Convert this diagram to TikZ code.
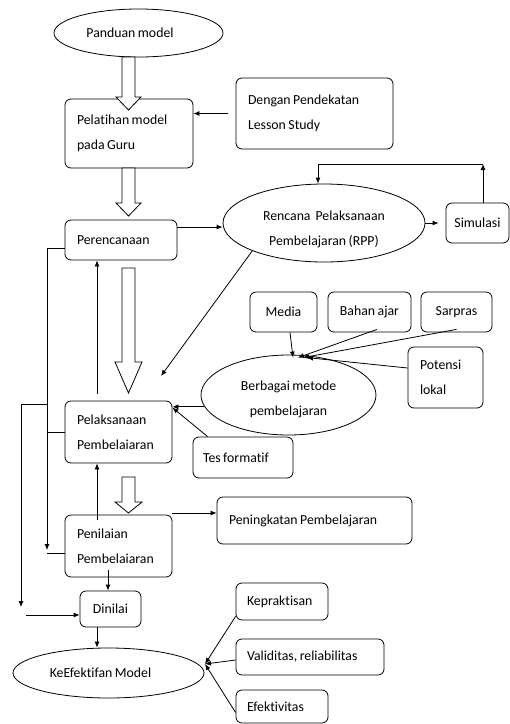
\documentclass[tikz,border=0pt]{standalone}
\usepackage{fontspec}
\setmainfont{Carlito}[Ligatures={NoCommon},WordSpace=0.8]
\usetikzlibrary{shapes.geometric,arrows.meta}
\begin{document}
\begin{tikzpicture}[x=1pt,y=-1pt,
  every node/.style={font=\fontsize{13.8}{25}\selectfont},
  box/.style={draw, line width=0.8pt, rounded corners=6pt, fill=white, inner ysep=0pt, inner xsep=12pt, align=flush left},
  cbox/.style={draw, line width=0.8pt, rounded corners=6pt, fill=white, inner sep=0pt, align=center},
  ell/.style={draw, line width=0.8pt, ellipse, inner sep=0pt, fill=white},
  arr/.style={line width=0.8pt, -{Latex[length=6pt,width=5pt]}},
  ln/.style={line width=0.8pt},
  blk/.style={draw, line width=0.8pt, fill=white, line join=miter}]
\useasboundingbox (0,0) rectangle (510,724);

% nodes
\node[ell, minimum width=169, minimum height=48, label={[xshift=-8.5pt]center:Panduan model}] (panduan) at (138.5,33) {};
\node[box, text width=104, minimum height=69] (pelatihan) at (129,133.5) {Pelatihan model\\pada Guru};
\node[box, text width=133, minimum height=71] (dengan) at (314.5,113.5) {Dengan Pendekatan\\Lesson Study};
\node[box, text width=88, minimum height=40] (perenc) at (121,240) {Perencanaan};
\node[ell, minimum width=202, minimum height=78, label={[align=center,yshift=-6.5pt]center:Rencana\ \ Pelaksanaan\\Pembelajaran (RPP)}] (rpp) at (324,223) {};
\node[cbox, minimum width=63, minimum height=40] (simulasi) at (477.5,223) {Simulasi};
\node[cbox, minimum width=67, minimum height=40] (media) at (283.5,312) {Media};
\node[cbox, minimum width=83, minimum height=40] (bahan) at (369.5,312) {Bahan ajar};
\node[cbox, minimum width=71, minimum height=40] (sarpras) at (456.5,312) {Sarpras};
\node[box, text width=51, minimum height=61] (potensi) at (445.5,377.5) {Potensi\\lokal};
\node[ell, minimum width=175, minimum height=80, label={[align=center,yshift=-4.5pt]center:Berbagai metode\\pembelajaran}] (berbagai) at (288.5,395) {};
\node[box, text width=83, minimum height=62] (pelaks) at (118.5,432) {Pelaksanaan\\Pembelaiaran};
\node[box, inner xsep=10pt, text width=80, minimum height=41] (tes) at (243,457.5) {Tes formatif};
\node[box, text width=83, minimum height=62] (penilaian) at (118.5,546) {Penilaian\\Pembelaiaran};
\node[box, text width=171, minimum height=47] (peningkatan) at (314.5,520.5) {Peningkatan Pembelajaran};
\node[cbox, minimum width=61, minimum height=36] (dinilai) at (110.5,609) {Dinilai};
\node[ell, minimum width=191, minimum height=50, label={[xshift=-8pt]center:KeEfektifan Model}] (keef) at (108.5,673) {};
\node[box, inner xsep=11pt, text width=70, minimum height=37] (keprak) at (282,601.5) {Kepraktisan};
\node[box, inner xsep=11pt, text width=126, minimum height=36] (valid) at (310,657) {Validitas, reliabilitas};
\node[box, inner xsep=11pt, text width=70, minimum height=33] (efekt) at (282,706.5) {Efektivitas};

% connectors
\draw[arr] ([xshift=-8pt]dengan.west) -- (dengan.west -| pelatihan.east);
\coordinate (p1) at ([yshift=13pt]perenc.east);
\draw[arr] (p1) -- (p1 -| rpp.west);
\draw[arr] (rpp.east) -- ([xshift=-7pt]simulasi.west);
\coordinate (fb) at (483,164);
\coordinate (fb2) at (318,164);
\draw[arr] (simulasi.north -| fb) -- (fb);
\draw[arr] (fb) -- (fb2) -- (fb2 |- rpp.north);
\coordinate (d1) at (161,376);
\draw[arr] (rpp.south west) -- (d1);

\coordinate (bt) at ([yshift=-3pt]berbagai.north);
\draw[arr] ([xshift=6.5pt]media.south) -- ([xshift=4.5pt]bt);
\draw[arr] ([xshift=7.5pt,yshift=3pt]bahan.south) -- ([xshift=9.5pt]bt);
\draw[arr] ([yshift=3pt]sarpras.south) -- ([xshift=14.5pt]bt);
\draw[arr] ([yshift=9.5pt]potensi.west) -- ([xshift=18.5pt]bt);

\draw[arr] (berbagai.188) -- (berbagai.188 -| pelaks.east);
\draw[arr] ([xshift=15pt]tes.north west) -- ([yshift=-7pt]pelaks.north east);

\coordinate (lA) at (47,550);
\draw[arr] ([yshift=-8pt]perenc.west) -| (lA);
\draw[ln] (pelaks.west) -- (pelaks.west -| lA);
\coordinate (lB) at (47,553);
\draw[ln] (lB) -- (lB -| penilaian.west);
\coordinate (oS) at (47,404);
\coordinate (oA) at (21,607);
\draw[arr] (oS) -| (oA);
\coordinate (oB) at (26,615);
\draw[arr] (oB) -- (oB -| dinilai.west);

\coordinate (u1) at (97,394);
\draw[arr] (u1) -- (u1 |- perenc.south);
\coordinate (u2) at (97,520);
\draw[arr] (u2) -- (u2 |- pelaks.south);
\coordinate (q) at (172,513);
\draw[arr] (q) -- (q -| peningkatan.west);
\coordinate (r) at (108,570);
\draw[arr] (r) -- (r |- dinilai.north);
\coordinate (s) at (97,627);
\draw[arr] (s) -- (s |- keef.north);
\coordinate (k) at (205,664);
\draw[arr] ([yshift=4pt]keprak.south west) -- (k);
\draw[arr] ([yshift=-3pt]valid.west) -- (k);
\draw[arr] ([yshift=-6pt]efekt.west) -- (k);

% block arrows
\draw[blk] (122,57) -- (135,57) -- (135,97) -- (141,97) -- (128.5,110) -- (116,97) -- (122,97) -- cycle;
\draw[blk] (122,168) -- (135,168) -- (135,203) -- (141,203) -- (128.5,216) -- (116,203) -- (122,203) -- cycle;
\draw[blk] (122,268) -- (135,268) -- (135,362) -- (142,362) -- (128.5,393) -- (115,362) -- (122,362) -- cycle;
\draw[blk] (122,477) -- (135,477) -- (135,502) -- (142,502) -- (128.5,513) -- (115,502) -- (122,502) -- cycle;
\end{tikzpicture}
\end{document}
